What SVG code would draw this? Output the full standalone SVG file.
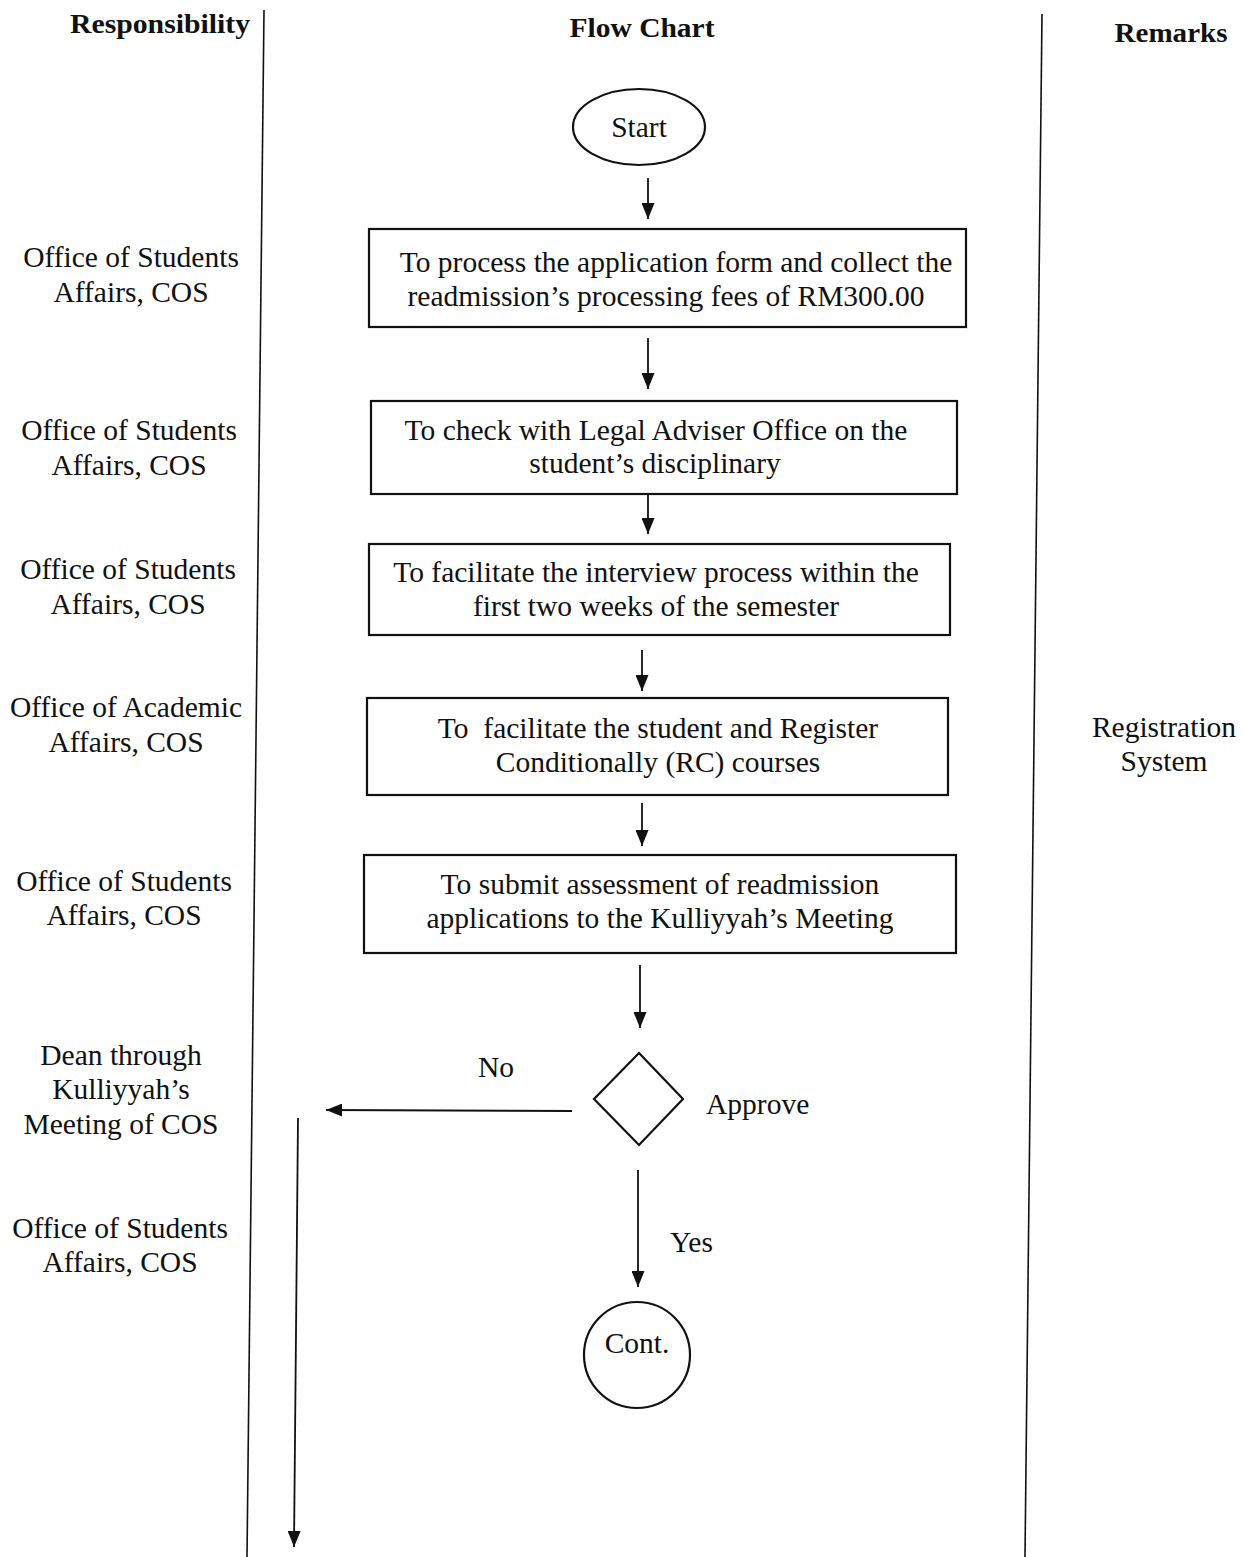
<svg xmlns="http://www.w3.org/2000/svg" width="1244" height="1557" viewBox="0 0 1244 1557">
<style>
text{font-family:"Liberation Serif","Times New Roman",serif;fill:#111;}
.h{font-size:27px;font-weight:bold;text-anchor:middle;}
.t{font-size:29.5px;text-anchor:middle;}
.lab{font-size:29.5px;}
.shape{fill:#fff;stroke:#111;stroke-width:2.2;}
.ln{stroke:#111;stroke-width:1.8;fill:none;}
.col{stroke:#111;stroke-width:1.6;}
</style>
<defs>
<marker id="ah" markerWidth="16" markerHeight="13" refX="16" refY="6.5" orient="auto" markerUnits="userSpaceOnUse">
<path d="M0,0 L16,6.5 L0,13 Z" fill="#111"/>
</marker>
</defs>
<rect width="1244" height="1557" fill="#fff"/>
<g id="columns">
<line class="col" x1="264" y1="10" x2="247" y2="1557"/>
<line class="col" x1="1042" y1="14" x2="1025" y2="1557"/>
</g>
<g id="headers">
<text class="h" x="160" y="33" textLength="180" lengthAdjust="spacingAndGlyphs">Responsibility</text>
<text class="h" x="642" y="37" textLength="145" lengthAdjust="spacingAndGlyphs">Flow Chart</text>
<text class="h" x="1171" y="42" textLength="113" lengthAdjust="spacingAndGlyphs">Remarks</text>
</g>
<g id="responsibility">
<text class="t" x="131" y="267">Office of Students</text>
<text class="t" x="131" y="302">Affairs, COS</text>
<text class="t" x="129" y="440">Office of Students</text>
<text class="t" x="129" y="475">Affairs, COS</text>
<text class="t" x="128" y="579">Office of Students</text>
<text class="t" x="128" y="614">Affairs, COS</text>
<text class="t" x="126" y="717">Office of Academic</text>
<text class="t" x="126" y="752">Affairs, COS</text>
<text class="t" x="124" y="891">Office of Students</text>
<text class="t" x="124" y="925">Affairs, COS</text>
<text class="t" x="121" y="1065">Dean through</text>
<text class="t" x="121" y="1099">Kulliyyah’s</text>
<text class="t" x="121" y="1134">Meeting of COS</text>
<text class="t" x="120" y="1238">Office of Students</text>
<text class="t" x="120" y="1272">Affairs, COS</text>
</g>
<g id="remarks">
<text class="t" x="1164" y="737">Registration</text>
<text class="t" x="1164" y="771">System</text>
</g>
<g id="start">
<ellipse class="shape" cx="639" cy="127" rx="66" ry="38"/>
<text class="t" x="639" y="137">Start</text>
</g>
<g id="step1">
<rect class="shape" x="369" y="229" width="597" height="98"/>
<text class="t" x="676" y="272">To process the application form and collect the</text>
<text class="t" x="666" y="306">readmission’s processing fees of RM300.00</text>
</g>
<g id="step2">
<rect class="shape" x="371" y="401" width="586" height="93"/>
<text class="t" x="656" y="440">To check with Legal Adviser Office on the</text>
<text class="t" x="655" y="473">student’s disciplinary</text>
</g>
<g id="step3">
<rect class="shape" x="369" y="544" width="581" height="91"/>
<text class="t" x="656" y="582">To facilitate the interview process within the</text>
<text class="t" x="656" y="616">first two weeks of the semester</text>
</g>
<g id="step4">
<rect class="shape" x="367" y="698" width="581" height="97"/>
<text class="t" x="658" y="738" xml:space="preserve">To  facilitate the student and Register</text>
<text class="t" x="658" y="772">Conditionally (RC) courses</text>
</g>
<g id="step5">
<rect class="shape" x="364" y="855" width="592" height="98"/>
<text class="t" x="660" y="894">To submit assessment of readmission</text>
<text class="t" x="660" y="928">applications to the Kulliyyah’s Meeting</text>
</g>
<g id="decision">
<polygon class="shape" points="639,1053 683,1099 639,1145 594,1099"/>
<text class="lab" x="706" y="1114">Approve</text>
</g>
<g id="cont">
<circle class="shape" cx="637" cy="1355" r="53"/>
<text class="t" x="637" y="1353">Cont.</text>
</g>
<g id="connectors">
<line class="ln" x1="648" y1="178" x2="648" y2="219" marker-end="url(#ah)"/>
<line class="ln" x1="648" y1="338" x2="648" y2="389" marker-end="url(#ah)"/>
<line class="ln" x1="648" y1="494" x2="648" y2="534" marker-end="url(#ah)"/>
<line class="ln" x1="642" y1="650" x2="642" y2="691" marker-end="url(#ah)"/>
<line class="ln" x1="642" y1="803" x2="642" y2="846" marker-end="url(#ah)"/>
<line class="ln" x1="640" y1="965" x2="640" y2="1028" marker-end="url(#ah)"/>
<line class="ln" x1="572" y1="1111" x2="326" y2="1110" marker-end="url(#ah)"/>
<line class="ln" x1="298" y1="1118" x2="294" y2="1547" marker-end="url(#ah)"/>
<line class="ln" x1="638" y1="1170" x2="638" y2="1287" marker-end="url(#ah)"/>
<text class="lab" x="478" y="1077">No</text>
<text class="lab" x="670" y="1252">Yes</text>
</g>
</svg>
